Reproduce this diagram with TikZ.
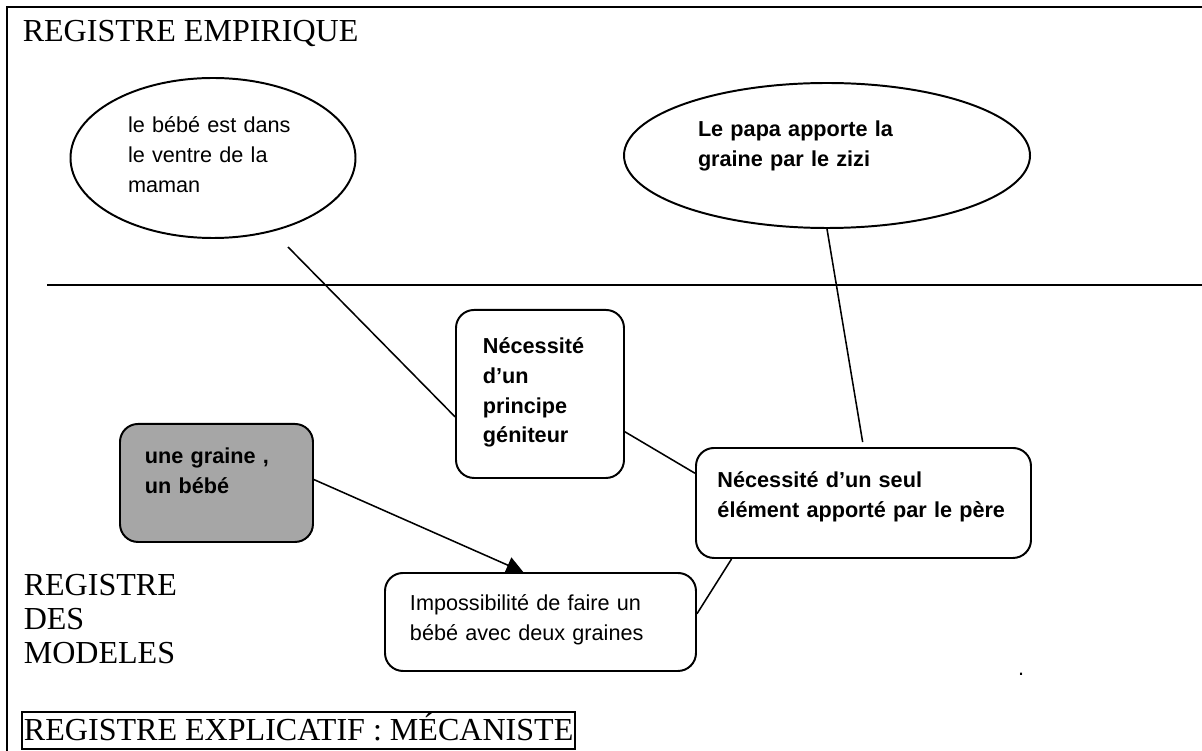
\documentclass[tikz,border=0pt]{standalone}
\usepackage{fontspec}
\setmainfont{Liberation Serif}
\setsansfont{Liberation Sans}
\usetikzlibrary{arrows.meta, shapes.geometric}
\definecolor{cgrey}{HTML}{A6A6A6}
\tikzset{
  every picture/.style={line width=1.1pt},
  register/.style={font=\fontsize{22.8}{24.2}\selectfont, inner sep=0pt},
  bubble/.style={draw, ellipse, line width=1.4pt, align=left, inner sep=0pt, font=\sffamily\fontsize{15.4}{21}\selectfont},
  box/.style={draw, fill=#1, rounded corners=4.5mm, line width=1.4pt, align=left, inner ysep=0pt, font=\sffamily\fontsize{15.4}{21}\selectfont},
  box/.default=white,
  heavy/.style={font=\sffamily\bfseries\fontsize{15.4}{21}\selectfont},
  link/.style={draw, line width=1.1pt},
  arrow/.style={-{Triangle[length=4.2mm, width=4.2mm]}, line width=1.1pt},
}
\begin{document}
\begin{tikzpicture}
  \useasboundingbox (0,0) rectangle (30.05,-18.775);
  \draw[line width=2.1pt] (30.05,-0.175) -- (0.175,-0.175) -- (0.175,-18.775);
  \draw[line width=1.4pt] (1.175,-7.125) -- (30.05,-7.125);
  \node[register, anchor=base west] (emp) at (0.55,-1.05) {REGISTRE EMPIRIQUE};
  \node[register, anchor=north west, align=left, text width=4cm, text height=0.6cm] (mod) at (0.575,-14.275) {REGISTRE\\DES\\MODELES};
  \node[register, draw, line width=1.4pt, anchor=base west, inner xsep=0.05cm, text height=0.7cm, text depth=0.225cm] (expl) at (0.525,-18.5) {REGISTRE EXPLICATIF : MÉCANISTE};
  \node[bubble, minimum width=7.125cm, minimum height=4cm, text width=4.25cm, text height=0.5cm, text depth=1.75cm] (ventre) at (5.325,-3.95) {le bébé est dans\\le ventre de la\\maman};
  \node[bubble, heavy, minimum width=10.15cm, minimum height=3.625cm, text width=6.45cm, text height=0.5cm, text depth=1.425cm] (papa) at (20.675,-3.8875) {Le papa apporte la\\graine par le zizi};
  \node[box, heavy, anchor=north west, text width=2.85cm, inner xsep=0.675cm, text height=1.1cm, text depth=3.1cm] (princ) at (11.375,-7.725) {Nécessité\\d’un\\principe\\géniteur};
  \node[box, heavy, anchor=north west, text width=7.3cm, inner xsep=0.5375cm, text height=1cm, text depth=1.75cm] (seul) at (17.375,-11.175) {Nécessité d’un seul\\élément apporté par le père};
  \node[box, anchor=north west, text width=6.525cm, inner xsep=0.625cm, text height=0.95cm, text depth=1.5cm] (imp) at (9.6,-14.3) {Impossibilité de faire un\\bébé avec deux graines};
  \node[box=cgrey, heavy, anchor=north west, text width=3.575cm, inner xsep=0.625cm, text height=1cm, text depth=1.95cm] (graine) at (2.975,-10.575) {une graine ,\\un bébé};
  \node[anchor=base, inner sep=0pt, font=\sffamily\fontsize{15.4}{21}\selectfont] (dot) at (25.525,-16.875) {.};
  \coordinate (ventre-tail) at (7.2,-6.175);
  \draw[link] (ventre-tail) -- (princ.195);
  \draw[link, shorten >=0.125cm] (papa.south) -- (seul.north);
  \draw[link] (princ.-24) -- (seul.170);
  \draw[link] (seul.203.5) -- (imp.3);
  \draw[arrow] (graine.2) -- (imp.109);
\end{tikzpicture}
\end{document}
